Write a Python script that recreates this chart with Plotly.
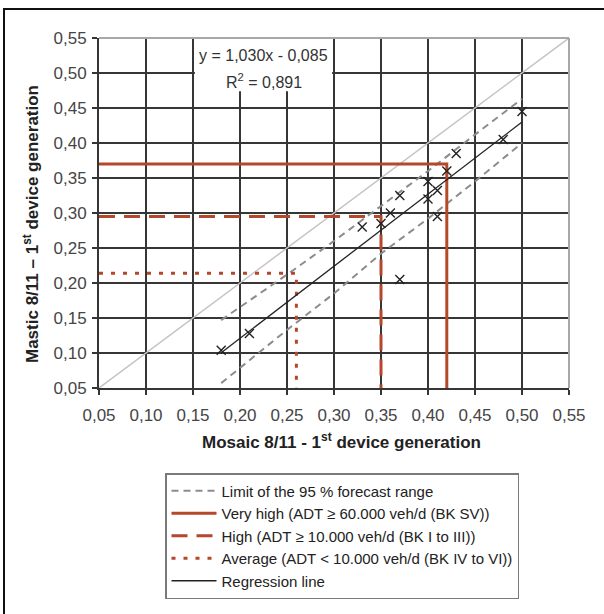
import plotly.graph_objects as go

# ---- data ----
mosaic = [0.18, 0.21, 0.33, 0.35, 0.36, 0.37, 0.37, 0.40, 0.40, 0.41, 0.41, 0.42, 0.43, 0.48, 0.50]
mastic = [0.104, 0.128, 0.28, 0.285, 0.30, 0.325, 0.205, 0.345, 0.32, 0.332, 0.295, 0.36, 0.385, 0.405, 0.445]

reg_slope = 1.030
reg_intercept = -0.085
reg_x = [0.18, 0.50]

band_x = [0.18, 0.25, 0.30, 0.35, 0.40, 0.45, 0.50]
band_upper = [0.147, 0.212, 0.260, 0.310, 0.360, 0.412, 0.463]
band_lower = [0.057, 0.133, 0.185, 0.242, 0.292, 0.345, 0.400]

diag = [0.05, 0.55]
axis_min = 0.05

thr_names = ["Very high (ADT ≥ 60.000 veh/d (BK SV))",
             "High (ADT ≥ 10.000 veh/d (BK I to III))",
             "Average (ADT < 10.000 veh/d (BK IV to VI))"]
thr_x = [0.42, 0.35, 0.26]
thr_y = [0.37, 0.295, 0.214]
thr_dash = ["solid", "16px,9px", "4px,8px"]

tick_vals = [0.05, 0.10, 0.15, 0.20, 0.25, 0.30, 0.35, 0.40, 0.45, 0.50, 0.55]

ORANGE = "#b5472a"
FONT = "Liberation Sans, Arial, sans-serif"

fig = go.Figure()

# 1:1 diagonal
fig.add_trace(go.Scatter(x=diag, y=diag, mode="lines",
                         line=dict(color="#c4c4c4", width=1.5),
                         showlegend=False, hoverinfo="skip"))

# forecast band
fig.add_trace(go.Scatter(x=band_x + [None] + band_x,
                         y=band_upper + [None] + band_lower,
                         mode="lines", line=dict(color="#8c8c8c", width=2, dash="7px,5px"),
                         name="Limit of the 95 % forecast range", legendgroup="a"))

# thresholds
for i, (nm, xv, yv, ds) in enumerate(zip(thr_names, thr_x, thr_y, thr_dash)):
    fig.add_trace(go.Scatter(x=[axis_min, xv, xv], y=[yv, yv, axis_min], mode="lines",
                             line=dict(color=ORANGE, width=3, dash=ds),
                             name=nm, legendgroup="t%d" % i))

# regression
reg_y = [reg_slope * v + reg_intercept for v in reg_x]
fig.add_trace(go.Scatter(x=reg_x, y=reg_y, mode="lines",
                         line=dict(color="#222222", width=1.3),
                         name="Regression line", legendgroup="r"))

# points
fig.add_trace(go.Scatter(x=mosaic, y=mastic, mode="markers",
                         marker=dict(symbol="x-thin", size=9,
                                     line=dict(color="#222222", width=1.4)),
                         showlegend=False))

axis_common = dict(range=[0.05, 0.55], tickvals=tick_vals, tickformat=".2f",
                   showgrid=True, gridcolor="#363636", gridwidth=1.8,
                   showline=True, linecolor="#363636", linewidth=1.8,
                   ticks="outside", ticklen=5, tickcolor="#363636", tickwidth=1.5,
                   zeroline=False,
                   tickfont=dict(family=FONT, size=17, color="#454545"))

xaxis = dict(axis_common, ticklabelstandoff=6)
yaxis = dict(axis_common, ticklabelstandoff=2)

fig.update_layout(
    width=604, height=614,
    margin=dict(l=99, r=35, t=38, b=226),
    paper_bgcolor="white", plot_bgcolor="white",
    separators=",.",
    xaxis=xaxis, yaxis=yaxis,
    font=dict(family=FONT, color="#222222"),
    legend=dict(x=(165 - 99) / 470, y=(388 - 473) / 350, xanchor="left", yanchor="top",
                bordercolor="#7a7a7a", borderwidth=1.5, bgcolor="white",
                font=dict(family=FONT, size=15, color="#222222"),
                itemwidth=45, tracegroupgap=0, entrywidth=310),
    showlegend=True,
)

# equation box
fig.add_shape(type="rect", xref="x", yref="y", x0=0.152, x1=0.298, y0=0.474, y1=0.55,
              fillcolor="white", line=dict(width=0), layer="between")
fig.add_annotation(xref="x", yref="y", x=0.225, y=0.5245, text="y = 1,030x - 0,085",
                   showarrow=False, font=dict(family=FONT, size=16, color="#333333"))
fig.add_annotation(xref="x", yref="y", x=0.225, y=0.4885, text="R<sup>2</sup> = 0,891",
                   showarrow=False, font=dict(family=FONT, size=16, color="#333333"))

# light top/right border
fig.add_shape(type="line", xref="paper", yref="paper", x0=0, x1=1, y0=1, y1=1,
              line=dict(color="#a8a8a8", width=2), layer="above")
fig.add_shape(type="line", xref="paper", yref="paper", x0=1, x1=1, y0=0, y1=1,
              line=dict(color="#a8a8a8", width=2), layer="above")

# axis titles
fig.add_annotation(xref="paper", yref="paper", x=(341 - 99) / 470, y=(388 - 441) / 350,
                   text="<b>Mosaic 8/11 - 1<sup>st</sup> device generation</b>",
                   showarrow=False, xanchor="center", yanchor="middle",
                   font=dict(family=FONT, size=17, color="#222222"))
fig.add_annotation(xref="paper", yref="paper", x=(31 - 99) / 470, y=(388 - 224) / 350,
                   text="<b>Mastic 8/11 – 1<sup>st</sup> device generation</b>",
                   showarrow=False, textangle=-90, xanchor="center", yanchor="middle",
                   font=dict(family=FONT, size=17, color="#222222"))

# outer frame
fig.add_shape(type="rect", xref="paper", yref="paper",
              x0=(4 - 99) / 470, x1=(760 - 99) / 470,
              y0=(388 - 760) / 350, y1=(388 - 9) / 350,
              line=dict(color="#111111", width=2), fillcolor="rgba(0,0,0,0)", layer="above")

fig.write_html("out.html")
